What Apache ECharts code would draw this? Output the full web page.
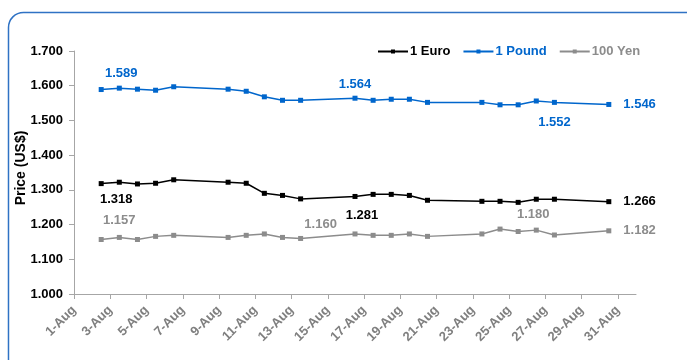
<!DOCTYPE html>
<html>
<head>
<meta charset="utf-8">
<script src="https://cdn.jsdelivr.net/npm/echarts@6/dist/echarts.min.js"></script>
<style>
    html, body { margin: 0; padding: 0; background: #fff; }
    #chart { width: 687px; height: 360px; }
</style>
</head>
<body>
<div id="chart"></div>
<script>
// trading days in August (day of month)
const days = [2, 3, 4, 5, 6, 9, 10, 11, 12, 13, 16, 17, 18, 19, 20, 23, 24, 25, 26, 27, 30];

const euro  = [1.318, 1.322, 1.317, 1.319, 1.329, 1.322, 1.319, 1.290, 1.284, 1.274, 1.281,
               1.287, 1.287, 1.284, 1.270, 1.267, 1.267, 1.264, 1.273, 1.273, 1.266];
const pound = [1.589, 1.593, 1.590, 1.587, 1.597, 1.590, 1.584, 1.568, 1.558, 1.558, 1.564,
               1.558, 1.561, 1.561, 1.552, 1.552, 1.545, 1.545, 1.556, 1.552, 1.546];
const yen   = [1.157, 1.163, 1.157, 1.166, 1.169, 1.163, 1.169, 1.173, 1.163, 1.160, 1.173,
               1.169, 1.169, 1.173, 1.166, 1.173, 1.187, 1.180, 1.184, 1.170, 1.182];

const tickDays   = [1, 3, 5, 7, 9, 11, 13, 15, 17, 19, 21, 23, 25, 27, 29, 31];
const tickLabels = ['1-Aug', '3-Aug', '5-Aug', '7-Aug', '9-Aug', '11-Aug', '13-Aug', '15-Aug',
                    '17-Aug', '19-Aug', '21-Aug', '23-Aug', '25-Aug', '27-Aug', '29-Aug', '31-Aug'];

// which points carry a value label (day -> placement)
const euroLabels = {
    2:  { position: 'bottom', offset: [15, 2] },
    16: { position: 'bottom', offset: [7, 5] },
    30: { position: 'right', distance: 12 }
};
const poundLabels = {
    2:  { position: 'top', offset: [20, -2] },
    16: { position: 'top', offset: [0, 0] },
    27: { position: 'bottom', offset: [0, 6] },
    30: { position: 'right', distance: 12 }
};
const yenLabels = {
    2:  { position: 'top', offset: [18, -5] },
    13: { position: 'top', offset: [20, 0] },
    25: { position: 'top', offset: [15, -3] },
    30: { position: 'right', distance: 12 }
};

const FONT = '"Liberation Sans", Arial, sans-serif';
const tickPos = tickDays.map(d => d - 0.5);

function buildData(values, labels, color) {
    return days.map((d, i) => {
        const item = { value: [d, values[i]] };
        if (labels[d]) {
            item.label = Object.assign({
                show: true,
                color: color,
                fontFamily: FONT,
                fontWeight: 'bold',
                fontSize: 13,
                formatter: p => p.value[1].toFixed(3)
            }, labels[d]);
        }
        return item;
    });
}

function makeSeries(name, values, labels, color) {
    return {
        name: name,
        type: 'line',
        data: buildData(values, labels, color),
        symbol: 'rect',
        symbolSize: 5,
        lineStyle: { color: color, width: 1.5 },
        itemStyle: { color: color },
        emphasis: { disabled: true },
        animation: false
    };
}

const chart = echarts.init(document.getElementById('chart'));
chart.setOption({
    backgroundColor: '#fff',
    graphic: [{
        type: 'rect',
        shape: { x: 8.5, y: 12.5, width: 700, height: 370, r: 15 },
        style: { fill: 'none', stroke: '#2f72c4', lineWidth: 1.5 },
        silent: true
    }, {
        // y axis title
        type: 'text',
        x: 21,
        y: 168,
        rotation: Math.PI / 2,
        style: {
            text: 'Price (US$)',
            fill: '#000',
            font: 'bold 14px "Liberation Sans", Arial, sans-serif',
            textAlign: 'center',
            textVerticalAlign: 'middle'
        },
        silent: true
    }],
    legend: {
        left: 372,
        top: 40,
        itemWidth: 30,
        itemHeight: 5,
        itemGap: 12,
        textStyle: { fontFamily: FONT, fontWeight: 'bold', fontSize: 13, padding: [0, 0, 0, -3] },
        data: [
            { name: '1 Euro', textStyle: { color: '#000' } },
            { name: '1 Pound', textStyle: { color: '#0066cc' } },
            { name: '100 Yen', textStyle: { color: '#8c8c8c' } }
        ]
    },
    grid: { left: 74, right: 51, top: 51, bottom: 66, containLabel: false },
    xAxis: {
        type: 'value',
        min: 0.5,
        max: 31.5,
        splitLine: { show: false },
        axisLine: { lineStyle: { color: '#a6a6a6', width: 1 } },
        axisTick: { show: true, length: 5, lineStyle: { color: '#a6a6a6' }, customValues: tickPos },
        axisLabel: {
            customValues: tickPos,
            rotate: 45,
            margin: 14,
            color: '#7f7f7f',
            fontFamily: FONT,
            fontWeight: 'bold',
            fontSize: 13,
            formatter: v => {
                const i = tickPos.indexOf(v);
                return i >= 0 ? tickLabels[i] : '';
            }
        }
    },
    yAxis: {
        type: 'value',
        min: 1,
        max: 1.7,
        interval: 0.1,
        splitLine: { show: false },
        axisLine: { show: true, lineStyle: { color: '#a6a6a6', width: 1 } },
        axisTick: { show: true, length: 5, lineStyle: { color: '#a6a6a6' } },
        axisLabel: {
            margin: 11,
            color: '#000',
            fontFamily: FONT,
            fontWeight: 'bold',
            fontSize: 13,
            formatter: v => v.toFixed(3)
        }
    },
    series: [
        makeSeries('1 Euro', euro, euroLabels, '#000000'),
        makeSeries('1 Pound', pound, poundLabels, '#0066cc'),
        makeSeries('100 Yen', yen, yenLabels, '#8c8c8c')
    ]
});
</script>
</body>
</html>
